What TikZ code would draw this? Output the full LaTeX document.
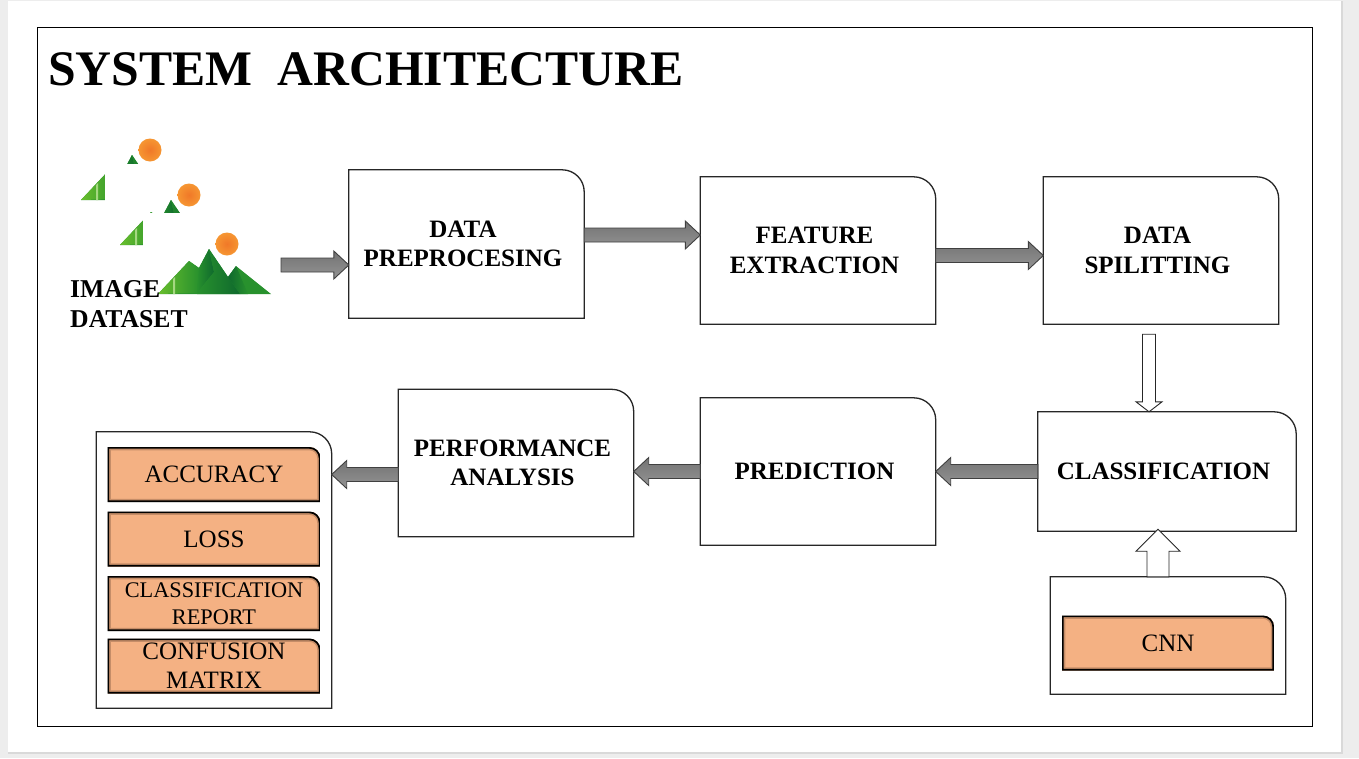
\documentclass[tikz,border=0pt]{standalone}
\usepackage{fontspec}
\setmainfont{Liberation Serif}
\usetikzlibrary{calc}
\definecolor{boxorange}{RGB}{244, 177, 131}
\definecolor{shadeorange}{RGB}{110, 75, 55}
\definecolor{pagegrey}{RGB}{237, 237, 237}
\definecolor{sunorange}{RGB}{240, 120, 40}
\definecolor{sunrim}{RGB}{246, 150, 50}
\definecolor{lightgreen}{RGB}{105, 190, 45}
\definecolor{midgreen}{RGB}{40, 145, 45}
\definecolor{darkgreen}{RGB}{15, 105, 45}
\tikzset{
  stepbox/.style={text width=#1, inner sep=0pt, align=center, font=\fontsize{25}{29.5}\selectfont\bfseries,
    execute at begin node={\advance\rightskip by 7pt},
    append after command={
      (\tikzlastnode.south west) edge[tabline] (\tikzlastnode.north east)}},
  tabline/.style={draw=black!85, line width=1.3pt, to path={
      (\tikztostart) |- ($(\tikztotarget)+(-22pt,0)$)
      arc[start angle=90, end angle=0, radius=22pt]
      |- (\tikztostart) -- cycle}},
  metricbox/.style={minimum width=#1, inner sep=0pt, align=center, font=\fontsize{25}{29}\selectfont,
    path picture={
      \clip[metricline];
      \fill[boxorange] (path picture bounding box.south west) rectangle (path picture bounding box.north east);
      \draw[metricline, draw=shadeorange, draw opacity=0.35, line width=6.5pt];
      \draw[metricline, draw=black, line width=3.4pt];
    }},
  metricline/.style={insert path={
      (path picture bounding box.south west) |- ($(path picture bounding box.north east)+(-11pt,0)$)
      arc[start angle=90, end angle=0, radius=11pt]
      |- (path picture bounding box.south west) -- cycle}},
  blockarrow/.style 2 args={draw=black!75, line width=0.9pt, top color=black!55, bottom color=black!42, to path={
      let \p1=($(\tikztotarget)-(\tikztostart)$), \n1={veclen(\x1,\y1)}, \n2={atan2(\y1,\x1)} in
      ([shift={(\tikztostart)},rotate=\n2]0pt,#1) -- ([shift={(\tikztostart)},rotate=\n2]\n1-#2,#1)
      -- ([shift={(\tikztostart)},rotate=\n2]\n1-#2,2*#1) -- (\tikztotarget)
      -- ([shift={(\tikztostart)},rotate=\n2]\n1-#2,-2*#1) -- ([shift={(\tikztostart)},rotate=\n2]\n1-#2,-#1)
      -- ([shift={(\tikztostart)},rotate=\n2]0pt,-#1) -- cycle}},
  hollowarrow/.style 2 args={blockarrow={#1}{#2}, top color=white, bottom color=white, draw=black!85}
}
\newcommand{\scenery}[1]{
  \begin{scope}[shift={(#1)}]
    \fill[white] (143,213) rectangle (285,318);
    \shade[inner color=sunorange, outer color=sunrim] (227,244) circle (11.5);
    \fill[midgreen] (158,294) -- (189,261) -- (199,268) -- (209,249) -- (228,277) -- (236,266) -- (271,294) -- cycle;
    \shade[left color=lightgreen, right color=midgreen] (158,294) -- (189,261) -- (199,268) -- (197,293) -- cycle;
    \shade[left color=midgreen, right color=darkgreen] (199,268) -- (209,249) -- (214,272) -- (205,283) -- (197,293) -- cycle;
    \shade[left color=midgreen, right color=darkgreen] (209,249) -- (228,277) -- (240,294) -- (197,294) -- (214,272) -- cycle;
    \shade[left color=darkgreen, right color=midgreen] (236,266) -- (248,294) -- (240,294) -- (228,277) -- cycle;
    \fill[lightgreen!60] (173,279) -- (175,277) -- (175,294) -- (173,294) -- cycle;
  \end{scope}
}

\begin{document}
\begin{tikzpicture}[x=1pt, y=-1pt]
  \useasboundingbox (0,0) rectangle (1359,758);
  \fill[pagegrey] (0,0) rectangle (1359,758);
  \fill[black!15] (8,1) rectangle (1343,754);
  \fill[white] (8,1) rectangle (1341,752);
  \draw[black, line width=1.2pt] (37.5,27.5) rectangle (1312.5,726.5);
  \node[anchor=west, inner sep=0pt, font=\fontsize{49.7}{60}\selectfont\bfseries] (title) at (48,69) {SYSTEM\ \ ARCHITECTURE};

  % dataset pictures
  \scenery{-77,-94}
  \scenery{-38,-49}
  \scenery{0,0}
  \node[anchor=north west, inner sep=0pt, align=left, font=\fontsize{25.7}{30.5}\selectfont\bfseries] (dataset) at (70,280) {IMAGE\\DATASET};

  % top row
  \node[stepbox=235pt, minimum height=148pt] (preproc) at (466.5,244) {DATA\\PREPROCESING};
  \node[stepbox=235pt, minimum height=147pt] (feature) at (818,250.5) {FEATURE\\EXTRACTION};
  \node[stepbox=235pt, minimum height=147pt] (split) at (1161,250.5) {DATA\\SPILITTING};

  % bottom row
  \node[stepbox=258pt, minimum height=119pt] (classify) at (1167,471.5) {CLASSIFICATION};
  \node[stepbox=235pt, minimum height=147pt] (predict) at (818,471.5) {PREDICTION};
  \node[stepbox=235pt, minimum height=147pt] (perform) at (516,463) {PERFORMANCE\\ANALYSIS};

  % model and result panels
  \node[stepbox=235pt, minimum height=117pt] (modelpanel) at (1168,635.5) {};
  \node[metricbox=212pt, minimum height=55pt] (cnn) at (1168,643) {CNN};
  \node[stepbox=235pt, minimum height=276pt] (resultpanel) at (214,570) {};
  \node[metricbox=213pt, minimum height=55pt] (accuracy) at (214,474.5) {ACCURACY};
  \node[metricbox=213pt, minimum height=55pt] (loss) at (214,539) {LOSS};
  \node[metricbox=213pt, minimum height=55pt, font=\fontsize{22.3}{27}\selectfont] (report) at (214,603.5) {CLASSIFICATION\\REPORT};
  \node[metricbox=213pt, minimum height=55pt] (confusion) at (214,666) {CONFUSION\\MATRIX};

  % arrows
  \coordinate (datasetout) at (281,265);
  \draw[blockarrow={7pt}{15pt}] (datasetout) to (preproc.west |- datasetout);
  \draw[blockarrow={7pt}{15pt}] ([yshift=9pt]preproc.east) to ([yshift=15.5pt]feature.west);
  \draw[blockarrow={7pt}{15pt}] ([yshift=-5pt]feature.east) to ([yshift=-5pt]split.west);
  \draw[hollowarrow={6.5pt}{10pt}] ([xshift=-12pt,yshift=-10pt]split.south) to ([xshift=-18pt]classify.north);
  \draw[hollowarrow={11pt}{22pt}] ([xshift=-10pt]modelpanel.north) to ([xshift=-9pt,yshift=2pt]classify.south);
  \draw[blockarrow={7pt}{15pt}] (classify.west) to (predict.east);
  \draw[blockarrow={7pt}{15pt}] (predict.west) to ([yshift=-8.5pt]perform.east);
  \draw[blockarrow={7pt}{15pt}] ([yshift=-11.5pt]perform.west) to (resultpanel.east |- accuracy.east);
\end{tikzpicture}
\end{document}
